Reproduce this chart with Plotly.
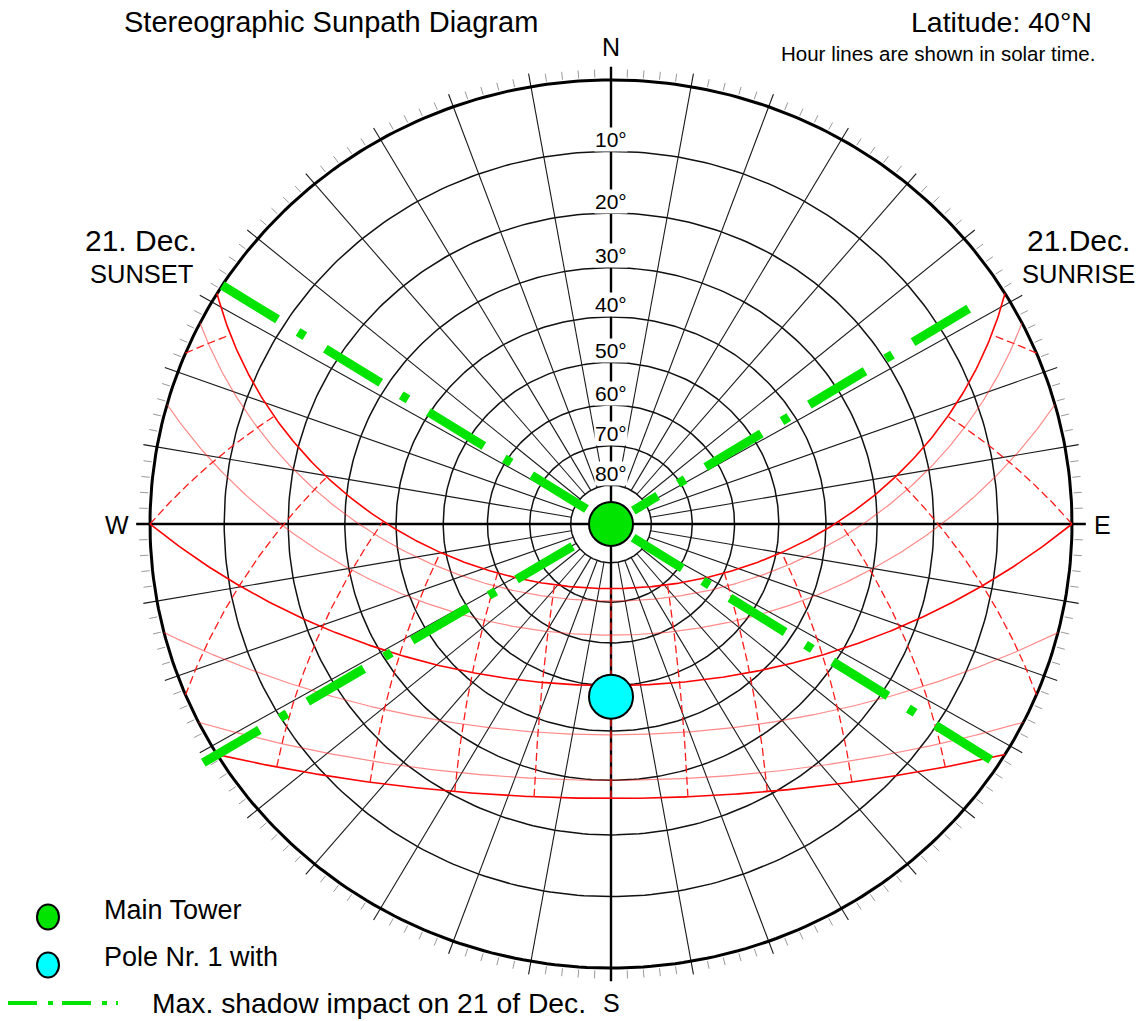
import numpy as np
import plotly.graph_objects as go

# ---------------------------------------------------------------- data
LATITUDE = 40.0
ALTITUDE_RINGS = [10, 20, 30, 40, 50, 60, 70, 80]
RING_LABELS = ["10°", "20°", "30°", "40°", "50°", "60°", "70°", "80°"]
AZIMUTH_GRID = list(range(0, 360, 10))
TICK_AZIMUTHS = [a for a in range(0, 360, 2) if a % 10]

DATE_NAMES = ["21 Jun", "21 May / 21 Jul", "21 Apr / 21 Aug", "21 Mar / 21 Sep",
              "21 Feb / 21 Oct", "21 Jan / 21 Nov", "21 Dec"]
DECLINATIONS = [23.44, 20.3, 11.9, 0.0, -10.8, -20.0, -23.44]
DATE_MAJOR = [True, False, False, True, False, False, True]
SOLAR_HOURS = [5, 6, 7, 8, 9, 10, 11, 12, 13, 14, 15, 16, 17, 18, 19]

SHADOW_AZIMUTHS = [302.5, 122.8, 58.0, 238.7]     # max shadow directions 21 Dec
SHADOW_OUTER_R = [1.0, 0.98, 0.915, 1.035]
SHADOW_INNER_R = [0.063, 0.057, 0.057, 0.06]

OBJECT_NAMES = ["Main Tower", "Pole Nr. 1 with"]
OBJECT_AZ = [0.0, 180.0]
OBJECT_ALT = [90.0, 47.5]
OBJECT_COLORS = ["#00E400", "#00FFFF"]

# ---------------------------------------------------------------- geometry
W, H = 1148, 1021
CX, CY = 611, 524
RX, RY = 461, 444
FONT = "Liberation Sans, Arial, Helvetica, sans-serif"


def ring_r(alt):
    return np.tan(np.radians((90.0 - np.asarray(alt, dtype=float)) / 2.0))


def polar_xy(az, r):
    a = np.radians(np.asarray(az, dtype=float))
    return r * np.sin(a), r * np.cos(a)


def sun_xy(dec, hour_angle):
    phi = np.radians(LATITUDE)
    d = np.radians(np.asarray(dec, dtype=float))
    h = np.radians(np.asarray(hour_angle, dtype=float))
    east = -np.cos(d) * np.sin(h)
    north = np.sin(d) * np.cos(phi) - np.cos(d) * np.sin(phi) * np.cos(h)
    up = np.sin(phi) * np.sin(d) + np.cos(phi) * np.cos(d) * np.cos(h)
    return east / (1 + up), north / (1 + up)


def P(xpx, ypx):
    return xpx / W, 1 - ypx / H


fig = go.Figure()


def add_line(xs, ys, color, width, dash=None):
    fig.add_trace(go.Scatter(x=xs, y=ys, mode="lines",
                             line=dict(color=color, width=width, dash=dash),
                             hoverinfo="skip", showlegend=False))


def join(segments):
    xs, ys = [], []
    for x, y in segments:
        xs += list(x) + [None]
        ys += list(y) + [None]
    return xs, ys


# ---------------------------------------------------------------- grid
az_s = np.arange(0, 361, 1.0)
xs, ys = join([polar_xy(az_s, ring_r(a)) for a in ALTITUDE_RINGS])
add_line(xs, ys, "#111111", 1.5)

r_in = float(ring_r(80))
segs = []
for az in AZIMUTH_GRID:
    if az % 90 == 0:
        continue
    x0, y0 = polar_xy(az, r_in)
    x1, y1 = polar_xy(az, 1.03)
    segs.append(([x0, x1], [y0, y1]))
xs, ys = join(segs)
add_line(xs, ys, "#1a1a1a", 1.1)

segs = []
for az in TICK_AZIMUTHS:
    x0, y0 = polar_xy(az, 1.006)
    x1, y1 = polar_xy(az, 1.024)
    segs.append(([x0, x1], [y0, y1]))
xs, ys = join(segs)
add_line(xs, ys, "#999999", 1.0)

segs = []
for az in [0, 90]:
    x0, y0 = polar_xy(az + 180, 1.03)
    x1, y1 = polar_xy(az, 1.03)
    segs.append(([x0, x1], [y0, y1]))
xs, ys = join(segs)
add_line(xs, ys, "#000000", 2.4)

hx, hy = polar_xy(az_s, 1.0)
add_line(list(hx), list(hy), "#000000", 3.0)

# ---------------------------------------------------------------- sun paths
major, minor = [], []
for dec, big in zip(DECLINATIONS, DATE_MAJOR):
    c = -np.tan(np.radians(LATITUDE)) * np.tan(np.radians(dec))
    h0 = np.degrees(np.arccos(np.clip(c, -1, 1)))
    hs = np.linspace(-h0, h0, 400)
    (major if big else minor).append(sun_xy(np.full_like(hs, dec), hs))

xs, ys = join(minor)
add_line(xs, ys, "rgba(255,40,40,0.55)", 1.2)
xs, ys = join(major)
add_line(xs, ys, "#ff0000", 1.6)

segs = []
dmin, dmax = min(DECLINATIONS), max(DECLINATIONS)
for hr in SOLAR_HOURS:
    ha = 15.0 * (hr - 12)
    cross = np.degrees(np.arctan(-np.cos(np.radians(ha)) / np.tan(np.radians(LATITUDE))))
    lo = max(dmin, cross)
    ds = np.linspace(lo, dmax, 200)
    segs.append(sun_xy(ds, np.full_like(ds, ha)))
xs, ys = join(segs)
add_line(xs, ys, "#ff1a1a", 1.3, dash="8px,4px")

# ---------------------------------------------------------------- shadow rays
for az, ro, ri in zip(SHADOW_AZIMUTHS, SHADOW_OUTER_R, SHADOW_INNER_R):
    x0, y0 = polar_xy(az, ro)
    x1, y1 = polar_xy(az, ri)
    add_line([x0, x1], [y0, y1], "#00E400", 9, dash="65px,24px,8px,24px")

# ---------------------------------------------------------------- objects
ox, oy = polar_xy(OBJECT_AZ, ring_r(OBJECT_ALT))
fig.add_trace(go.Scatter(x=list(ox), y=list(oy), mode="markers",
                         marker=dict(size=44, color=OBJECT_COLORS,
                                     line=dict(color="#000000", width=2)),
                         text=OBJECT_NAMES, hoverinfo="skip", showlegend=False))

# ---------------------------------------------------------------- text
ann = []
for alt, lab in zip(ALTITUDE_RINGS, RING_LABELS):
    ann.append(dict(x=0, y=float(ring_r(alt)), xref="x", yref="y", text=lab,
                    showarrow=False, yshift=12, bgcolor="white", borderpad=0,
                    font=dict(size=21, color="#000", family=FONT)))


def txt(xpx, ypx, s, size, anchor="center"):
    x, y = P(xpx, ypx)
    ann.append(dict(x=x, y=y, xref="paper", yref="paper", text=s, showarrow=False,
                    xanchor=anchor, yanchor="middle",
                    font=dict(size=size, color="#000", family=FONT)))


txt(122, 22, "Stereographic Sunpath Diagram", 29, "left")
txt(1094, 22, "Latitude: 40°N", 28.5, "right")
txt(1097, 53, "Hour lines are shown in solar time.", 20.5, "right")
txt(611, 47, "N", 25)
txt(117, 525, "W", 25)
txt(1102, 525, "E", 25)
txt(611, 1003, "S", 25)
txt(141, 240, "21. Dec.", 30)
txt(141, 274, "SUNSET", 25.5)
txt(1078, 240, "21.Dec.", 30)
txt(1078, 274, "SUNRISE", 25.5)
txt(102, 910, OBJECT_NAMES[0], 27, "left")
txt(102, 957, OBJECT_NAMES[1], 27, "left")
txt(150, 1003, "Max. shadow impact on 21 of Dec.", 28.3, "left")

shapes = []
for (px, py), col in zip([(48, 917), (48, 965)], OBJECT_COLORS):
    ax_, ay_ = P(px, py)
    shapes.append(dict(type="circle", xref="paper", yref="paper",
                       xsizemode="pixel", ysizemode="pixel",
                       xanchor=ax_, yanchor=ay_, x0=-11, x1=11, y0=-12.5, y1=12.5,
                       fillcolor=col, line=dict(color="#000", width=2)))
lx0, ly = P(8, 1003)
lx1, _ = P(118, 1003)
shapes.append(dict(type="line", xref="paper", yref="paper", x0=lx0, x1=lx1, y0=ly, y1=ly,
                   line=dict(color="#00E400", width=4, dash="29px,11px,5px,9px")))

fig.update_layout(
    width=W, height=H, margin=dict(l=0, r=0, t=0, b=0),
    paper_bgcolor="white", plot_bgcolor="white",
    xaxis=dict(range=[(0 - CX) / RX, (W - CX) / RX], visible=False, fixedrange=True),
    yaxis=dict(range=[(CY - H) / RY, CY / RY], visible=False, fixedrange=True),
    showlegend=False, hovermode=False,
    annotations=ann, shapes=shapes,
    font=dict(family=FONT),
)

fig.write_html("out.html", config={"displayModeBar": False},
               post_script="document.body.style.margin='0';document.body.style.overflow='hidden';")
